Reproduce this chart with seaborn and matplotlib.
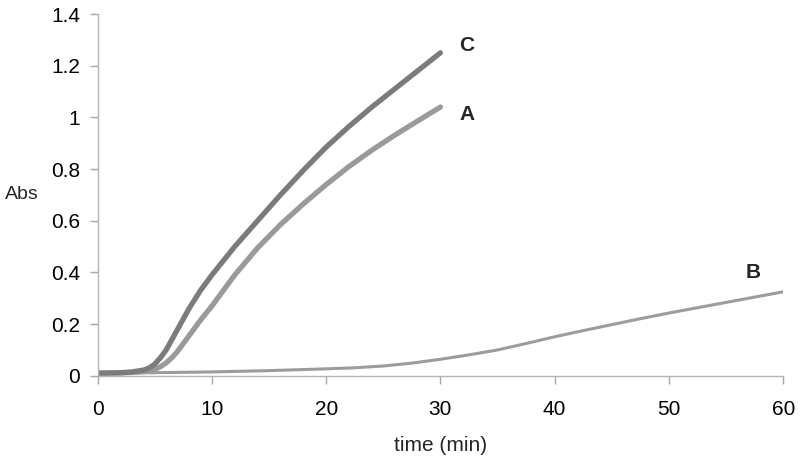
import pandas as pd
import seaborn as sns
import matplotlib.pyplot as plt

# curves (time in min, absorbance)
time_c = [0, 2, 3, 4, 4.5, 5, 5.5, 6, 7, 8, 9, 10, 12, 14, 16, 18, 20, 22, 24, 26, 28, 30]
abs_c = [0.01, 0.012, 0.015, 0.022, 0.03, 0.045, 0.07, 0.10, 0.18, 0.26, 0.33, 0.39,
         0.50, 0.60, 0.70, 0.795, 0.885, 0.965, 1.04, 1.11, 1.18, 1.25]
time_a = [0, 2, 3, 4, 5, 5.5, 6, 6.5, 7, 8, 9, 10, 11, 12, 14, 16, 18, 20, 22, 24, 26, 28, 30]
abs_a = [0.01, 0.011, 0.013, 0.016, 0.025, 0.035, 0.05, 0.07, 0.095, 0.155, 0.215, 0.27,
         0.33, 0.39, 0.495, 0.585, 0.665, 0.74, 0.81, 0.873, 0.931, 0.986, 1.04]
time_b = [0, 5, 10, 15, 20, 22.5, 25, 27.5, 30, 32.5, 35, 37.5, 40, 42.5, 45, 47.5, 50, 55, 60]
abs_b = [0.01, 0.012, 0.015, 0.02, 0.027, 0.031, 0.038, 0.049, 0.064, 0.081, 0.10, 0.125,
         0.151, 0.175, 0.198, 0.221, 0.243, 0.284, 0.325]

x_ticks = [0, 10, 20, 30, 40, 50, 60]
y_ticks = [0, 0.2, 0.4, 0.6, 0.8, 1, 1.2, 1.4]
y_labels = ["0", "0.2", "0.4", "0.6", "0.8", "1", "1.2", "1.4"]

sns.set_theme(style="ticks")
plt.rcParams['font.family'] = ['Liberation Sans', 'DejaVu Sans']

fig = plt.figure(figsize=(8, 4.68), dpi=100)
ax = fig.add_axes([0.122, 0.197, 0.857, 0.773])

sns.lineplot(x=time_b, y=abs_b, ax=ax, color="#9c9c9c", linewidth=2.2)
sns.lineplot(x=time_a, y=abs_a, ax=ax, color="#9a9a9a", linewidth=3.8)
sns.lineplot(x=time_c, y=abs_c, ax=ax, color="#7b7b7b", linewidth=3.8)

ax.text(32.3, 1.28, "C", fontsize=15, fontweight="bold", ha="center", va="center")
ax.text(32.3, 1.01, "A", fontsize=15, fontweight="bold", ha="center", va="center")
ax.text(57.4, 0.40, "B", fontsize=15, fontweight="bold", ha="center", va="center")

ax.set_xlim(0, 60)
ax.set_ylim(0, 1.4)
ax.set_xticks(x_ticks)
ax.set_yticks(y_ticks)
ax.set_yticklabels(y_labels)
ax.tick_params(labelsize=15, colors="#a8a8a8", labelcolor="black", length=5.5, width=1)
ax.tick_params(axis="x", pad=12)
ax.tick_params(axis="y", pad=7)
for side in ["top", "right"]:
    ax.spines[side].set_visible(False)
for side in ["left", "bottom"]:
    ax.spines[side].set_color("#b4b4b4")
    ax.spines[side].set_linewidth(1)

ax.set_xlabel("time (min)", fontsize=15, labelpad=12)
ax.set_ylabel("Abs", fontsize=14, rotation=0, labelpad=21, va="center")

fig.savefig("out.png", dpi=100)
